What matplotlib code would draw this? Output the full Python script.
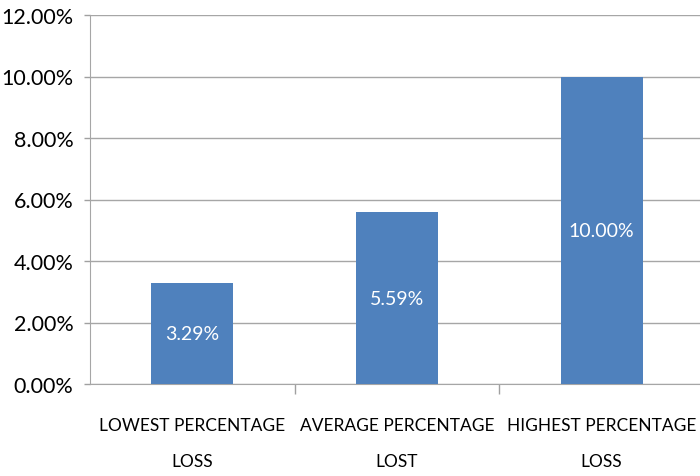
import matplotlib.pyplot as plt
from matplotlib.ticker import FuncFormatter, FixedLocator

# data
categories = ['LOWEST PERCENTAGE\nLOSS', 'AVERAGE PERCENTAGE\nLOST', 'HIGHEST PERCENTAGE\nLOSS']
values = [3.29, 5.59, 10.00]
value_labels = ['3.29%', '5.59%', '10.00%']

plt.rcParams['font.family'] = ['Lato', 'DejaVu Sans']

fig = plt.figure(figsize=(7, 4.77), dpi=100)
ax = fig.add_axes([90 / 700, 92 / 477, 614 / 700, 369 / 477])

x = range(len(values))
bars = ax.bar(x, values, width=0.4, color='#4F81BD', zorder=3)

# labels inside bars (centered)
for b, lab in zip(bars, value_labels):
    ax.text(b.get_x() + b.get_width() / 2, b.get_height() / 2, lab,
            ha='center', va='center', color='white', fontsize=14, zorder=4)

ax.set_xlim(-0.5, 2.5)
ax.set_ylim(0, 12)
ax.set_yticks([0, 2, 4, 6, 8, 10, 12])
ax.yaxis.set_major_formatter(FuncFormatter(lambda v, p: '%.2f%%' % v))
ax.tick_params(axis='y', labelsize=15.5, length=4, color='#A0A0A0', pad=8, width=1)
ax.grid(axis='y', color='#A6A6A6', linewidth=1, zorder=0)

# category labels at centers, tick marks at boundaries
ax.xaxis.set_major_locator(FixedLocator([0.5, 1.5]))
ax.set_xticklabels(['', ''])
ax.xaxis.set_minor_locator(FixedLocator([0, 1, 2]))
ax.set_xticklabels(categories, minor=True, fontsize=12.5, linespacing=2.5)
ax.tick_params(axis='x', which='major', length=7, color='#A0A0A0', width=1)
ax.tick_params(axis='x', which='minor', length=0, pad=24)

for s in ['top', 'right']:
    ax.spines[s].set_visible(False)
ax.spines['left'].set_color('#A6A6A6')
ax.spines['bottom'].set_color('#A6A6A6')

fig.savefig('out.png', dpi=100)
